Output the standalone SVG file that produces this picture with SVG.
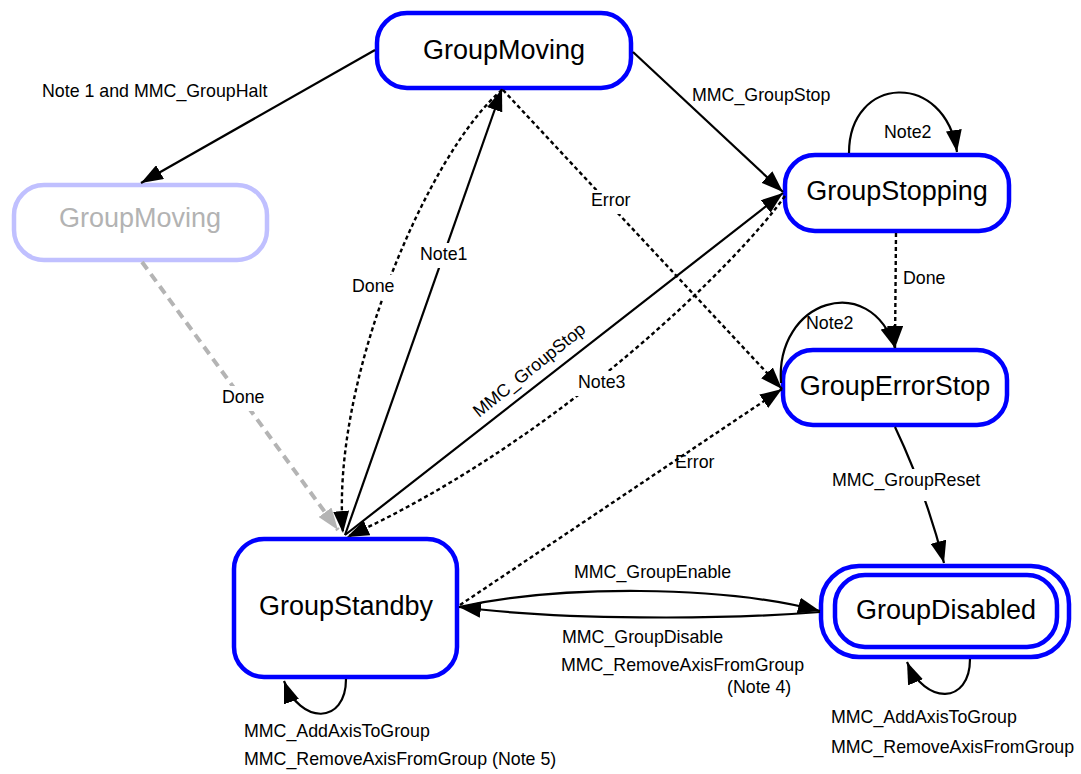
<svg xmlns="http://www.w3.org/2000/svg" width="1081" height="774" viewBox="0 0 1081 774">
  <defs>
    <style>
      .state { fill: #ffffff; stroke: #0000ff; stroke-width: 4.5; }
      .ghost { fill: #ffffff; stroke: #c0c0ff; stroke-width: 4.5; }
      .name { font-family: "Liberation Sans", Arial, sans-serif; font-size: 27px; fill: #000000; text-anchor: middle; }
      .ghost-name { fill: #b3b3b3; }
      .lbl { font-family: "Liberation Sans", Arial, sans-serif; font-size: 17.8px; fill: #000000; }
      .bg { fill: #ffffff; }
      .edge { fill: none; stroke: #000000; stroke-width: 2.2; }
      .dot { fill: none; stroke: #000000; stroke-width: 2.4; stroke-dasharray: 4 3; }
      .grey { fill: none; stroke: #b4b4b4; stroke-width: 4; stroke-dasharray: 9 6; }
    </style>
    <marker id="arrow" viewBox="0 0 22 16" refX="22" refY="8" markerWidth="22" markerHeight="16" markerUnits="userSpaceOnUse" orient="auto">
      <path d="M0,0 L22,8 L0,16 z" fill="#000000"/>
    </marker>
    <marker id="arrow-grey" viewBox="0 0 22 16" refX="22" refY="8" markerWidth="22" markerHeight="16" markerUnits="userSpaceOnUse" orient="auto">
      <path d="M0,0 L22,8 L0,16 z" fill="#b4b4b4"/>
    </marker>
  </defs>

  <rect width="1081" height="774" fill="#ffffff"/>

  <!-- states -->
  <g id="node-group-moving">
    <rect class="state" x="377" y="13" width="254" height="75" rx="30"/>
    <text class="name" x="504" y="59">GroupMoving</text>
  </g>
  <g id="node-group-moving-halt">
    <rect class="ghost" x="14" y="185" width="253" height="75" rx="30"/>
    <text class="name ghost-name" x="140" y="227">GroupMoving</text>
  </g>
  <g id="node-group-stopping">
    <rect class="state" x="785" y="155" width="224" height="76" rx="30"/>
    <text class="name" x="897" y="200">GroupStopping</text>
  </g>
  <g id="node-group-error-stop">
    <rect class="state" x="783" y="350" width="224" height="75" rx="30"/>
    <text class="name" x="895" y="395">GroupErrorStop</text>
  </g>
  <g id="node-group-standby">
    <rect class="state" x="234" y="539" width="223" height="138" rx="30"/>
    <text class="name" x="346" y="615">GroupStandby</text>
  </g>
  <g id="node-group-disabled">
    <rect class="state" x="821" y="566" width="248" height="91" rx="38"/>
    <rect class="state" x="835" y="575" width="222" height="72" rx="30"/>
    <text class="name" x="946" y="619">GroupDisabled</text>
  </g>

  <!-- transitions -->
  <g id="connectors">
    <path class="edge" d="M375,50 L141,183" marker-end="url(#arrow)"/>
    <path class="edge" d="M633,52 L783,192" marker-end="url(#arrow)"/>
    <path class="edge" d="M849,153 C849,75 945,70 957,152" marker-end="url(#arrow)"/>
    <path class="dot" d="M896,233 L895,348" marker-end="url(#arrow)"/>
    <path class="edge" d="M781,383 C775,300 870,270 895,348" marker-end="url(#arrow)"/>
    <path class="edge" d="M895,427 Q925,490 944,563" marker-end="url(#arrow)"/>
    <path class="edge" d="M346,679 C346,725 300,725 284,681" marker-end="url(#arrow)"/>
    <path class="edge" d="M970,659 C970,705 925,705 907,662" marker-end="url(#arrow)"/>
    <path class="edge" d="M459,607 C560,585 720,585 820,611" marker-end="url(#arrow)"/>
    <path class="edge" d="M820,612 C720,620 560,620 459,607" marker-end="url(#arrow)"/>
    <path class="dot" d="M503,90 L782,389" marker-end="url(#arrow)"/>
    <path class="dot" d="M460,605 L782,389" marker-end="url(#arrow)"/>
    <path class="grey" d="M142,262 L338,530" marker-end="url(#arrow-grey)"/>
    <path class="edge" d="M345,535 L502,89" marker-end="url(#arrow)"/>
    <path class="edge" d="M345,535 L783,193" marker-end="url(#arrow)"/>
    <path class="dot" d="M502,90 C430,150 330,380 343,533" marker-end="url(#arrow)"/>
    <path class="dot" d="M785,196 C740,260 560,440 347,537" marker-end="url(#arrow)"/>
  </g>

  <!-- transition labels -->
  <g id="labels">
    <text class="lbl" x="42" y="97">Note 1 and MMC_GroupHalt</text>
    <text class="lbl" x="692" y="101">MMC_GroupStop</text>
    <text class="lbl" x="884" y="138">Note2</text>
    <rect class="bg" x="587" y="190" width="47" height="24"/>
    <text class="lbl" x="591" y="206">Error</text>
    <text class="lbl" x="903" y="284">Done</text>
    <text class="lbl" x="806" y="329">Note2</text>
    <rect class="bg" x="416" y="243" width="55" height="25"/>
    <text class="lbl" x="420" y="260">Note1</text>
    <rect class="bg" x="348" y="275" width="50" height="25"/>
    <text class="lbl" x="352" y="292">Done</text>
    <text class="lbl" transform="translate(479,418) rotate(-38.8)">MMC_GroupStop</text>
    <rect class="bg" x="574" y="371" width="55" height="25"/>
    <text class="lbl" x="578" y="388">Note3</text>
    <rect class="bg" x="218" y="386" width="50" height="25"/>
    <text class="lbl" x="222" y="403">Done</text>
    <text class="lbl" x="675" y="468">Error</text>
    <rect class="bg" x="828" y="469" width="156" height="32"/>
    <text class="lbl" x="832" y="486">MMC_GroupReset</text>
    <text class="lbl" x="574" y="578">MMC_GroupEnable</text>
    <text class="lbl" x="562" y="643">MMC_GroupDisable</text>
    <text class="lbl" x="561" y="671">MMC_RemoveAxisFromGroup</text>
    <text class="lbl" x="727" y="693">(Note 4)</text>
    <text class="lbl" x="244" y="737">MMC_AddAxisToGroup</text>
    <text class="lbl" x="244" y="765">MMC_RemoveAxisFromGroup (Note 5)</text>
    <text class="lbl" x="831" y="723">MMC_AddAxisToGroup</text>
    <text class="lbl" x="831" y="753">MMC_RemoveAxisFromGroup</text>
  </g>
</svg>
